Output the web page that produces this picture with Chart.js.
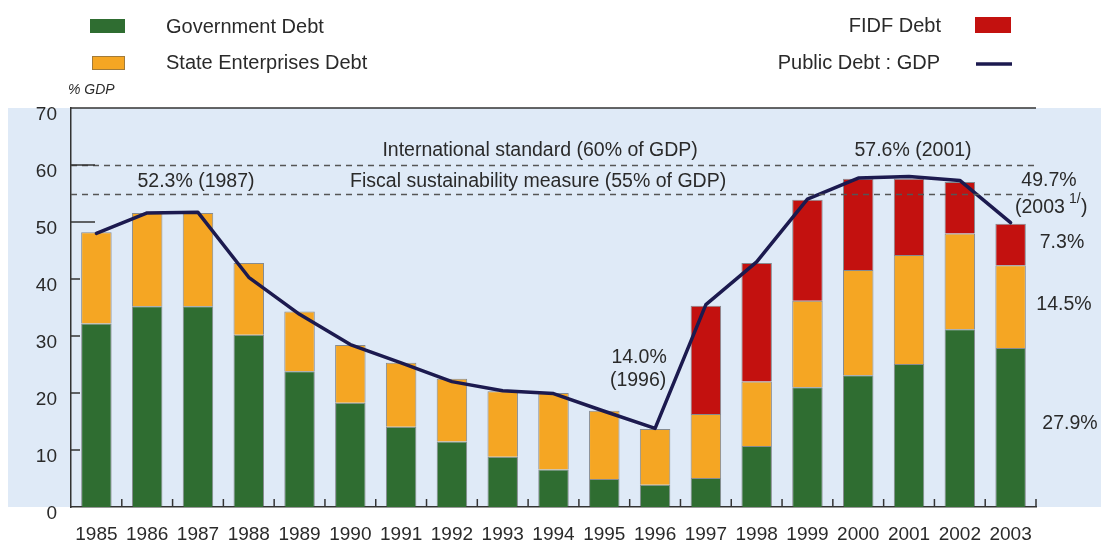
<!DOCTYPE html>
<html>
<head>
<meta charset="utf-8">
<title>Public Debt : GDP</title>
<script src="https://cdn.jsdelivr.net/npm/chart.js@4.4.1/dist/chart.umd.min.js"></script>
<style>
  body { margin: 0; background: #fff; }
  #wrap { width: 1101px; height: 544px; position: relative; }
</style>
</head>
<body>
<div id="wrap"><canvas id="debtChart"></canvas></div>
<script>
// --- Dados (% do PIB)
const years = ["1985","1986","1987","1988","1989","1990","1991","1992","1993","1994",
               "1995","1996","1997","1998","1999","2000","2001","2002","2003"];
const govDebt  = [32.2, 35.2, 35.2, 30.2, 23.8, 18.3, 14.1, 11.5, 8.8, 6.6,
                  4.9, 3.9, 5.1, 10.7, 21.0, 23.1, 25.1, 31.2, 27.9];
const seDebt   = [16.0, 16.4, 16.4, 12.6, 10.5, 10.1, 11.2, 11.0, 11.5, 13.4,
                  12.0, 9.8, 11.2, 11.3, 15.2, 18.5, 19.1, 16.8, 14.5];
const fidfDebt = [null, null, null, null, null, null, null, null, null, null,
                  null, null, 19.0, 20.8, 17.7, 16.0, 13.4, 9.0, 7.3];
const debtToGdp = [48.0, 51.6, 51.7, 40.3, 33.8, 28.5, 25.3, 22.0, 20.4, 19.9,
                   16.8, 13.8, 35.5, 43.0, 54.0, 57.7, 58.0, 57.3, 49.9];
const yTicks = [0, 10, 20, 30, 40, 50, 60, 70];
const refLines = [60, 55];

const FONT = "'Liberation Sans', Arial, Helvetica, sans-serif";
const TXT = "#2a2a2a";
const GREEN = "#2f6d31", ORANGE = "#f5a623", RED = "#c3110f", NAVY = "#1c1a4f";

// --- Desenho extra: fundo, linhas tracejadas, marcas, textos, legenda
const decor = {
    id: "decor",
    beforeDraw(chart) {
        const { ctx, chartArea: a } = chart;
        ctx.save();
        ctx.fillStyle = "#dfeaf7";
        ctx.fillRect(8, a.top, chart.width - 8, a.bottom - a.top);
        ctx.restore();
    },
    afterDatasetsDraw(chart) {
        const { ctx, chartArea: a, scales: { x, y } } = chart;
        ctx.save();
        // linhas de referência
        ctx.strokeStyle = "#555";
        ctx.lineWidth = 1.3;
        ctx.setLineDash([6, 5]);
        refLines.forEach(v => {
            const py = Math.round(y.getPixelForValue(v)) + 0.5;
            ctx.beginPath(); ctx.moveTo(a.left, py); ctx.lineTo(a.right, py); ctx.stroke();
        });
        ctx.setLineDash([]);
        // borda superior
        ctx.strokeStyle = "#333";
        ctx.lineWidth = 1.5;
        ctx.beginPath(); ctx.moveTo(a.left, a.top); ctx.lineTo(a.right, a.top); ctx.stroke();
        // marcas do eixo y (para dentro)
        yTicks.forEach(v => {
            if (v === 0 || v === 70) return;
            const py = y.getPixelForValue(v);
            const len = (v === 50 || v === 60) ? 24 : 9;
            ctx.beginPath(); ctx.moveTo(a.left, py); ctx.lineTo(a.left + len, py); ctx.stroke();
        });
        // marcas do eixo x (entre as barras)
        for (let i = 0; i < years.length; i++) {
            const px = i < years.length - 1
                ? (x.getPixelForValue(i) + x.getPixelForValue(i + 1)) / 2
                : a.right;
            ctx.beginPath(); ctx.moveTo(px, a.bottom); ctx.lineTo(px, a.bottom - 8); ctx.stroke();
        }
        ctx.restore();
    },
    afterDraw(chart) {
        const { ctx, chartArea: a, scales: { x, y } } = chart;
        ctx.save();
        ctx.fillStyle = TXT;
        ctx.textBaseline = "middle";
        ctx.font = "19.5px " + FONT;
        ctx.textAlign = "center";
        const mid = (x.getPixelForValue(8) + x.getPixelForValue(9)) / 2;
        ctx.fillText("International standard (60% of GDP)", mid + 12, y.getPixelForValue(60) - 14);
        ctx.fillText("Fiscal sustainability measure (55% of GDP)", mid + 10, y.getPixelForValue(55) - 12);
        ctx.fillText("52.3% (1987)", x.getPixelForValue(2) - 2, y.getPixelForValue(55) - 12);
        ctx.fillText("57.6% (2001)", x.getPixelForValue(16) + 4, y.getPixelForValue(60) - 14);
        ctx.fillText("14.0%", x.getPixelForValue(11) - 16, y.getPixelForValue(26.2));
        ctx.fillText("(1996)", x.getPixelForValue(11) - 17, y.getPixelForValue(22.2));
        const rx = a.right;
        ctx.fillText("49.7%", rx + 13, y.getPixelForValue(57.3));
        ctx.textAlign = "left";
        ctx.fillText("(2003", rx - 21, y.getPixelForValue(52.6));
        ctx.font = "14px " + FONT;
        ctx.fillText("1/", rx + 33, y.getPixelForValue(54.0));
        ctx.font = "19.5px " + FONT;
        ctx.fillText(")", rx + 45, y.getPixelForValue(52.6));
        ctx.textAlign = "center";
        ctx.fillText("7.3%", rx + 26, y.getPixelForValue(46.4));
        ctx.fillText("14.5%", rx + 28, y.getPixelForValue(35.5));
        ctx.fillText("27.9%", rx + 34, y.getPixelForValue(14.6));

        // % GDP
        ctx.textAlign = "left";
        ctx.font = "italic 14px " + FONT;
        ctx.fillText("% GDP", 68, 90);

        // legenda
        ctx.font = "20px " + FONT;
        ctx.fillStyle = GREEN;
        ctx.fillRect(90, 19, 35, 14);
        ctx.fillStyle = ORANGE;
        ctx.fillRect(92, 56, 33, 14);
        ctx.strokeStyle = "rgba(80,80,80,0.5)";
        ctx.lineWidth = 1;
        ctx.strokeRect(92.5, 56.5, 32, 13);
        ctx.fillStyle = TXT;
        ctx.fillText("Government Debt", 166, 27);
        ctx.fillText("State Enterprises Debt", 166, 63);
        ctx.textAlign = "right";
        ctx.fillText("FIDF Debt", 941, 26);
        ctx.fillText("Public Debt : GDP", 940, 63);
        ctx.fillStyle = RED;
        ctx.fillRect(975, 17, 36, 16);
        ctx.strokeStyle = NAVY;
        ctx.lineWidth = 3.5;
        ctx.beginPath(); ctx.moveTo(976, 64); ctx.lineTo(1012, 64); ctx.stroke();
        ctx.restore();
    }
};

const barBorder = "rgba(60,60,60,0.55)";

new Chart(document.getElementById("debtChart").getContext("2d"), {
    type: "bar",
    data: {
        labels: years,
        datasets: [
            { label: "Public Debt : GDP", type: "line", data: debtToGdp, stack: "line",
              borderColor: NAVY, borderWidth: 3.5, pointRadius: 0, tension: 0,
              borderJoinStyle: "round", borderCapStyle: "round", fill: false, order: 0 },
            { label: "Government Debt", data: govDebt, backgroundColor: GREEN,
              borderColor: barBorder, borderWidth: 1, stack: "debt", order: 1 },
            { label: "State Enterprises Debt", data: seDebt, backgroundColor: ORANGE,
              borderColor: barBorder, borderWidth: 1, stack: "debt", order: 1 },
            { label: "FIDF Debt", data: fidfDebt, backgroundColor: RED,
              borderColor: barBorder, borderWidth: 1, stack: "debt", order: 1 }
        ]
    },
    options: {
        responsive: true,
        maintainAspectRatio: false,
        animation: false,
        layout: { padding: { top: 108, right: 65, left: 0, bottom: 0 } },
        datasets: { bar: { categoryPercentage: 0.6, barPercentage: 1.0 } },
        plugins: { legend: { display: false }, tooltip: { enabled: false } },
        scales: {
            x: {
                stacked: true,
                grid: { display: false, drawTicks: false },
                border: { display: true, color: "#333", width: 1.5 },
                ticks: { color: TXT, font: { family: FONT, size: 19 }, padding: 16, maxRotation: 0, autoSkip: false },
                afterFit(s) { s.height = 37; }
            },
            y: {
                stacked: true,
                min: 0, max: 70,
                grid: { display: false, drawTicks: false },
                border: { display: true, color: "#333", width: 1.5 },
                ticks: { stepSize: 10, color: TXT, font: { family: FONT, size: 19 }, padding: 14, labelOffset: 7 },
                afterFit(s) { s.width = 71; }
            }
        }
    },
    plugins: [decor]
});
</script>
</body>
</html>
